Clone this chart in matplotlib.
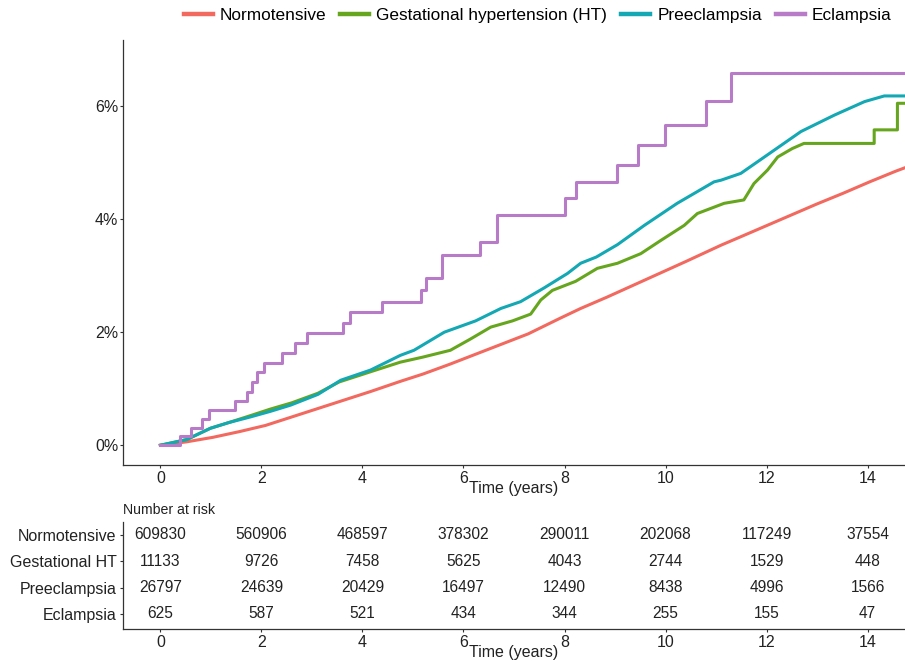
import matplotlib
matplotlib.use("Agg")
import matplotlib.pyplot as plt
from matplotlib.lines import Line2D

plt.rcParams['font.family'] = ['Liberation Sans', 'DejaVu Sans']

# cumulative incidence (%)
nor_t = [0, 0.52, 1.04, 1.56, 2.08, 2.6, 3.12, 3.64, 4.16, 4.75, 5.2, 5.72, 6.24, 6.76, 7.28, 7.92, 8.32, 8.84, 9.36, 9.88, 10.4, 11.1, 11.44, 11.96, 12.48, 13.0, 13.52, 14.04, 14.56, 14.74]
nor_v = [0, 0.06, 0.14, 0.24, 0.35, 0.5, 0.65, 0.8, 0.95, 1.13, 1.26, 1.43, 1.61, 1.79, 1.97, 2.25, 2.42, 2.62, 2.83, 3.04, 3.25, 3.54, 3.67, 3.87, 4.07, 4.27, 4.46, 4.66, 4.85, 4.91]

ght_t = [0, 0.52, 0.99, 1.35, 1.77, 2.18, 2.6, 3.12, 3.54, 4.16, 4.75, 5.2, 5.74, 6.14, 6.54, 6.97, 7.33, 7.53, 7.76, 8.22, 8.65, 9.05, 9.51, 9.9, 10.37, 10.63, 11.16, 11.55, 11.75, 12.02, 12.22, 12.51, 12.74, 14.13, 14.13, 14.59, 14.59, 14.74]
ght_v = [0, 0.1, 0.3, 0.4, 0.52, 0.64, 0.75, 0.92, 1.12, 1.3, 1.47, 1.56, 1.68, 1.88, 2.09, 2.2, 2.32, 2.57, 2.74, 2.9, 3.13, 3.22, 3.39, 3.62, 3.89, 4.1, 4.28, 4.34, 4.63, 4.87, 5.1, 5.25, 5.34, 5.34, 5.58, 5.58, 6.05, 6.05]

pre_t = [0, 0.52, 0.99, 1.35, 1.78, 2.18, 2.58, 3.12, 3.57, 4.16, 4.75, 5.02, 5.62, 6.24, 6.74, 7.13, 7.59, 8.06, 8.32, 8.63, 9.05, 9.58, 10.23, 10.96, 11.1, 11.49, 12.15, 12.68, 13.34, 13.94, 14.33, 14.74]
pre_v = [0, 0.1, 0.3, 0.4, 0.5, 0.6, 0.71, 0.9, 1.15, 1.33, 1.59, 1.68, 2.0, 2.2, 2.42, 2.54, 2.78, 3.04, 3.22, 3.33, 3.55, 3.89, 4.28, 4.66, 4.69, 4.81, 5.22, 5.55, 5.84, 6.08, 6.18, 6.18]

ecl_t = [0, 0.38, 0.6, 0.82, 0.96, 1.48, 1.71, 1.82, 1.91, 2.05, 2.41, 2.66, 2.9, 3.62, 3.76, 4.39, 5.16, 5.25, 5.58, 6.32, 6.66, 8.01, 8.22, 9.03, 9.45, 9.99, 10.8, 11.29, 14.74]
ecl_v = [0, 0.16, 0.30, 0.47, 0.63, 0.78, 0.94, 1.12, 1.30, 1.46, 1.63, 1.81, 1.99, 2.16, 2.35, 2.54, 2.74, 2.96, 3.36, 3.60, 4.08, 4.37, 4.65, 4.96, 5.31, 5.66, 6.09, 6.58, 6.58]

# number at risk table
risk_times = [0, 2, 4, 6, 8, 10, 12, 14]
risk_labels = ['Normotensive', 'Gestational HT', 'Preeclampsia', 'Eclampsia']
risk_normo = [609830, 560906, 468597, 378302, 290011, 202068, 117249, 37554]
risk_ght = [11133, 9726, 7458, 5625, 4043, 2744, 1529, 448]
risk_pre = [26797, 24639, 20429, 16497, 12490, 8438, 4996, 1566]
risk_ecl = [625, 587, 521, 434, 344, 255, 155, 47]

legend_names = ['Normotensive', 'Gestational hypertension (HT)', 'Preeclampsia', 'Eclampsia']
colors = ['#F2695F', '#66A61E', '#13A8B3', '#B87BC8']

fs = 11.5
fig = plt.figure(figsize=(9.05, 6.61), dpi=100)
ax = fig.add_axes([0.1359, 0.2965, 0.8641, 0.643])

lw = 2.2
ax.plot(nor_t, nor_v, color=colors[0], lw=lw)
ax.plot(ght_t, ght_v, color=colors[1], lw=lw)
ax.plot(pre_t, pre_v, color=colors[2], lw=lw)
ax.step(ecl_t, ecl_v, where='post', color=colors[3], lw=lw)

ax.set_xlim(-0.74, 14.74)
ax.set_ylim(-0.35, 7.17)
ax.set_yticks([0, 2, 4, 6])
ax.set_yticklabels(['0%', '2%', '4%', '6%'])
ax.set_xticks(risk_times)
for s in ['top', 'right']:
    ax.spines[s].set_visible(False)
for s in ['left', 'bottom']:
    ax.spines[s].set_color('#333333')
    ax.spines[s].set_linewidth(0.9)
ax.tick_params(labelsize=fs, colors='#333333', labelcolor='#222222', length=2.5, width=0.8, pad=2)
ax.tick_params(axis='y', pad=0.8)
ax.set_xlabel('Time (years)', fontsize=fs, labelpad=-4, color='#222222')

handles = [Line2D([], [], color=c, lw=3.2) for c in colors]
fig.legend(handles, legend_names, loc='center', bbox_to_anchor=(0.594, 0.976), ncol=4,
           frameon=False, fontsize=12.4, handlelength=1.7, columnspacing=0.8, handletextpad=0.4)

# risk table
tx = fig.add_axes([0.1359, 0.0484, 0.8641, 0.162])
rows = [risk_normo, risk_ght, risk_pre, risk_ecl]
ypos = [4, 3, 2, 1]
for vals, yy in zip(rows, ypos):
    for t, v in zip(risk_times, vals):
        tx.text(t, yy, str(v), ha='center', va='center', fontsize=11.2, color='#222222')
tx.set_xlim(-0.74, 14.74)
tx.set_ylim(0.43, 4.49)
tx.set_yticks(ypos)
tx.set_yticklabels(risk_labels)
tx.set_xticks(risk_times)
for s in ['top', 'right']:
    tx.spines[s].set_visible(False)
for s in ['left', 'bottom']:
    tx.spines[s].set_color('#333333')
    tx.spines[s].set_linewidth(0.9)
tx.tick_params(labelsize=fs, colors='#333333', labelcolor='#222222', length=2.5, width=0.8, pad=2)
tx.set_xlabel('Time (years)', fontsize=fs, labelpad=-4, color='#222222')
tx.set_title('Number at risk', loc='left', fontsize=10.2, color='#222222', pad=6)

fig.savefig('out.png', dpi=100)
